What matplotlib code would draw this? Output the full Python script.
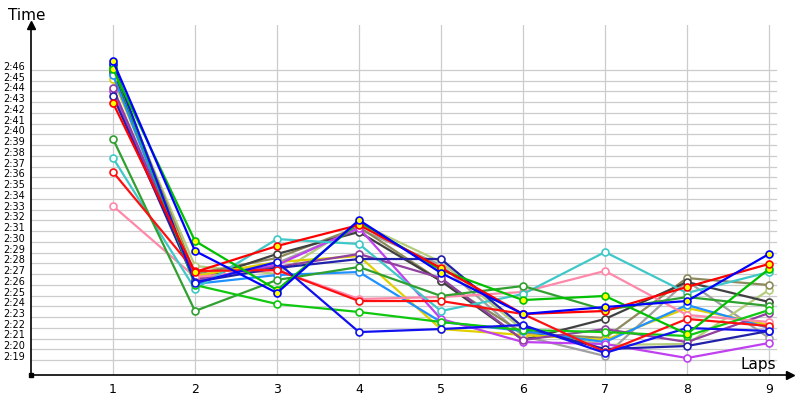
import numpy as np
import matplotlib
matplotlib.use("Agg")
import matplotlib.pyplot as plt
import matplotlib.transforms as mtransforms

# lap numbers and lap times (seconds after 2:00)
laps = [1, 2, 3, 4, 5, 6, 7, 8, 9]

t_gray = [46.19, 26.82, 28.03, 31.20, 27.84, 21.23, 19.37, 26.35, 21.05]
t_lightolive = [45.63, 27.75, 27.01, 31.75, 28.12, 21.79, 20.40, 20.49, 25.52]
t_olive = [46.00, 27.01, 28.50, 31.38, 26.35, 21.51, 21.05, 26.63, 25.98]
t_darkgray = [45.81, 26.35, 28.87, 30.92, 26.35, 20.86, 22.82, 26.26, 24.40]
t_yellow = [45.16, 26.82, 28.12, 28.68, 21.88, 21.33, 20.86, 23.84, 22.26]
t_lightblue = [45.53, 26.08, 26.91, 27.19, 22.54, 21.70, 20.67, 24.12, 21.98]
t_violet = [44.04, 26.45, 27.84, 31.29, 22.82, 20.67, 20.49, 19.18, 20.58]
t_purple = [44.32, 26.54, 27.66, 28.87, 26.63, 20.86, 21.88, 20.67, 23.37]
t_pink = [33.34, 26.73, 27.38, 24.68, 24.86, 25.33, 27.29, 23.19, 22.54]
t_cyan = [37.81, 25.61, 30.26, 29.80, 23.56, 25.14, 29.05, 25.24, 27.19]
t_forest = [39.58, 23.56, 26.45, 27.66, 24.96, 25.89, 23.65, 24.86, 24.03]
t_navy = [43.58, 26.26, 27.56, 28.40, 28.40, 22.07, 20.02, 20.30, 21.70]
t_green2 = [46.37, 25.98, 24.21, 23.47, 22.54, 21.79, 21.60, 21.23, 23.65]
t_red2 = [36.50, 27.29, 27.38, 24.49, 24.49, 23.28, 19.74, 22.82, 22.16]
t_blue2 = [46.56, 26.17, 28.12, 21.60, 21.88, 22.26, 19.65, 21.98, 21.70]
t_green = [46.09, 30.08, 25.52, 31.85, 27.38, 24.58, 24.96, 21.42, 27.47]
t_red = [42.93, 27.19, 29.61, 31.57, 27.56, 23.28, 23.56, 25.80, 27.94]
t_blue = [46.84, 29.15, 25.24, 32.03, 27.10, 23.28, 23.93, 24.49, 28.87]

y_ticks = list(range(19, 47))

series = [
    (t_gray, "#a0a0a0", "white"),
    (t_lightolive, "#b4cc7c", "white"),
    (t_olive, "#8c8a5c", "white"),
    (t_darkgray, "#404040", "white"),
    (t_yellow, "#e0d000", "white"),
    (t_lightblue, "#1e90ff", "white"),
    (t_violet, "#c040f0", "white"),
    (t_purple, "#9040a0", "white"),
    (t_pink, "#ff88aa", "white"),
    (t_cyan, "#40c8c8", "white"),
    (t_forest, "#30a030", "white"),
    (t_navy, "#2020a8", "white"),
    (t_green2, "#10c810", "white"),
    (t_red2, "#ff1010", "white"),
    (t_blue2, "#1010f0", "white"),
    (t_green, "#00c000", "yellow"),
    (t_red, "#ff0000", "yellow"),
    (t_blue, "#0000ff", "yellow"),
]

fig = plt.figure(figsize=(8, 4), dpi=100)
ax = fig.add_axes([31 / 800, 25 / 400, 759 / 800, 350 / 400])

px = 10.74  # pixels per second
y0 = 120 + 46 - 305 / px
y1 = 120 + 46 + 45 / px
xmax = 759 / 82
ax.set_xlim(0, xmax)
ax.set_ylim(y0, y1)

# grid
for s in y_ticks:
    ax.plot([0, 9.09], [120 + s, 120 + s], color="#cccccc", lw=0.9, zorder=1)
for lap in laps:
    ax.plot([lap, lap], [y0, y1], color="#cccccc", lw=0.9, zorder=1)

for vals, col, face in series:
    ax.plot(laps, [120 + v for v in vals], color=col, lw=1.6, marker="o",
            markersize=5, markerfacecolor=face, markeredgecolor=col,
            markeredgewidth=1.2, zorder=3)

for sp in ["top", "right"]:
    ax.spines[sp].set_visible(False)
ax.spines["left"].set_linewidth(1.2)
ax.spines["bottom"].set_linewidth(1.2)

ax.set_xticks(laps)
ax.set_xticklabels([str(l) for l in laps], fontsize=9)
ax.set_yticks([120 + s for s in y_ticks])
ax.set_yticklabels(["2:%02d" % s for s in y_ticks], fontsize=7)
ax.tick_params(length=0, pad=4)
ax.tick_params(axis="x", pad=6)
off = mtransforms.ScaledTranslation(0, 4 / 100, fig.dpi_scale_trans)
for lbl in ax.get_yticklabels():
    lbl.set_transform(lbl.get_transform() + off)

# arrows on axes
ax.plot(1, 0, ">k", transform=ax.transAxes, clip_on=False, markersize=6)
ax.plot(0, 1, "^k", transform=ax.transAxes, clip_on=False, markersize=6)
ax.plot(0, 0, "sk", transform=ax.transAxes, clip_on=False, markersize=3)

fig.text(8 / 800, 1 - 15 / 400, "Time", fontsize=11, va="center", ha="left")
fig.text(776 / 800, 1 - 364 / 400, "Laps", fontsize=11, va="center", ha="right")

fig.savefig("out.png", dpi=100)
